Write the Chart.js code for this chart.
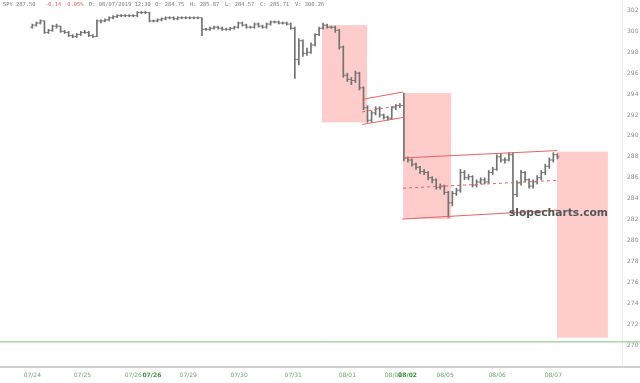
<!DOCTYPE html>
<html>
<head>
<meta charset="utf-8">
<script src="https://cdn.jsdelivr.net/npm/chart.js@4.4.0/dist/chart.umd.min.js"></script>
<style>
  html, body { margin: 0; padding: 0; background: #fff; }
  #wrap { width: 640px; height: 383px; position: relative; }
</style>
</head>
<body>
<div id="wrap"><canvas id="c"></canvas></div>
<script>
// SPY intraday bars, 07/24 - 08/07 2019
const opens = [300.4, 300.6, 300.8, 301.0, 299.9, 300.1, 300.5, 300.5, 300.0, 299.9,
  299.6, 299.5, 299.7, 299.9, 299.9, 299.6, 299.5, 301.0, 301.0, 301.1,
  301.3, 301.4, 301.5, 301.5, 301.5, 301.5, 301.5, 301.8, 301.8, 301.8,
  301.0, 301.0, 301.1, 301.2, 301.3, 301.3, 301.2, 301.3, 301.3, 301.3,
  301.3, 301.3, 301.3, 300.2, 300.2, 300.3, 300.4, 300.3, 300.2, 300.2,
  300.3, 300.4, 300.8, 300.6, 300.4, 300.4, 300.7, 300.5, 300.4, 300.7,
  300.9, 300.9, 300.8, 300.8, 300.7, 300.3, 297.3, 299.1, 297.9, 298.0,
  298.7, 299.7, 300.3, 300.6, 300.4, 300.4, 300.1, 298.5, 295.8, 295.4,
  295.3, 296.0, 294.6, 292.7, 291.5, 292.2, 292.6, 292.0, 291.8, 291.7,
  292.7, 292.9, 292.9, 287.9, 287.7, 287.3, 287.0, 286.6, 286.5, 286.0,
  285.8, 285.1, 285.2, 284.6, 283.6, 284.5, 284.8, 286.5, 286.0, 286.1,
  285.3, 285.6, 285.8, 285.6, 286.5, 286.8, 288.0, 287.7, 287.7, 288.2,
  284.4, 285.5, 286.5, 285.8, 285.2, 285.6, 286.0, 286.5, 287.1, 287.7,
  288.2];
const highs = [300.7, 300.9, 301.1, 301.0, 300.2, 300.6, 300.7, 300.5, 300.1, 300.0,
  299.7, 299.8, 300.0, 300.1, 300.0, 299.7, 301.1, 301.1, 301.2, 301.4,
  301.5, 301.6, 301.6, 301.6, 301.6, 301.6, 301.9, 301.9, 301.9, 301.8,
  301.1, 301.2, 301.3, 301.4, 301.4, 301.4, 301.4, 301.4, 301.4, 301.4,
  301.4, 301.4, 301.3, 300.3, 300.4, 300.5, 300.5, 300.4, 300.3, 300.4,
  300.5, 300.9, 300.9, 300.7, 300.5, 300.8, 300.8, 300.6, 300.8, 301.0,
  301.0, 301.0, 300.9, 300.9, 300.8, 300.4, 299.3, 299.2, 298.4, 298.9,
  299.8, 300.4, 300.8, 300.7, 300.5, 300.5, 300.2, 298.6, 296.0, 295.6,
  296.2, 296.1, 294.7, 292.9, 292.4, 292.8, 292.8, 292.1, 291.9, 292.8,
  293.0, 293.1, 294.1, 288.0, 287.8, 287.4, 287.1, 286.8, 286.6, 286.1,
  285.9, 285.4, 285.3, 284.7, 284.7, 285.0, 286.8, 286.7, 286.3, 286.2,
  285.8, 286.0, 286.0, 286.7, 287.0, 288.2, 288.3, 287.9, 288.4, 288.4,
  285.7, 286.7, 286.6, 285.9, 285.8, 286.2, 286.7, 287.3, 287.9, 288.4,
  288.3];
const lows = [300.3, 300.5, 300.7, 299.8, 299.8, 300.0, 300.3, 299.9, 299.8, 299.5,
  299.4, 299.4, 299.6, 299.8, 299.5, 299.4, 299.5, 300.8, 300.9, 301.0,
  301.2, 301.3, 301.4, 301.4, 301.4, 301.4, 301.4, 301.7, 301.7, 300.9,
  300.9, 300.9, 301.0, 301.1, 301.2, 301.1, 301.1, 301.2, 301.2, 301.2,
  301.2, 301.2, 299.6, 300.1, 300.1, 300.2, 300.2, 300.1, 300.1, 300.1,
  300.2, 300.3, 300.5, 300.3, 300.3, 300.3, 300.4, 300.3, 300.3, 300.6,
  300.8, 300.7, 300.7, 300.6, 300.2, 295.5, 296.8, 297.6, 297.7, 297.9,
  298.6, 299.6, 300.2, 300.3, 300.3, 299.9, 298.3, 295.6, 295.2, 294.9,
  295.1, 294.4, 292.5, 291.3, 291.3, 292.0, 291.8, 291.6, 291.5, 291.6,
  292.5, 292.7, 287.6, 287.5, 287.1, 286.8, 286.4, 286.3, 285.8, 285.5,
  284.9, 284.9, 284.4, 282.2, 283.3, 284.3, 284.6, 285.8, 285.8, 285.1,
  285.1, 285.4, 285.4, 285.5, 286.3, 286.7, 287.5, 287.4, 287.6, 282.6,
  284.2, 285.3, 285.6, 285.0, 285.0, 285.4, 285.8, 286.3, 286.9, 287.5,
  287.8];
const closes = [300.6, 300.8, 301.0, 299.9, 300.1, 300.5, 300.5, 300.0, 299.9, 299.6,
  299.5, 299.7, 299.9, 299.9, 299.6, 299.5, 301.0, 301.0, 301.1, 301.3,
  301.4, 301.5, 301.5, 301.5, 301.5, 301.5, 301.8, 301.8, 301.8, 301.0,
  301.0, 301.1, 301.2, 301.3, 301.3, 301.2, 301.3, 301.3, 301.3, 301.3,
  301.3, 301.3, 300.2, 300.2, 300.3, 300.4, 300.3, 300.2, 300.2, 300.3,
  300.4, 300.8, 300.6, 300.4, 300.4, 300.7, 300.5, 300.4, 300.7, 300.9,
  300.9, 300.8, 300.8, 300.7, 300.3, 297.3, 299.1, 297.9, 298.0, 298.7,
  299.7, 300.3, 300.6, 300.4, 300.4, 300.1, 298.5, 295.8, 295.4, 295.3,
  296.0, 294.6, 292.7, 291.5, 292.2, 292.6, 292.0, 291.8, 291.7, 292.7,
  292.9, 292.9, 287.9, 287.7, 287.3, 287.0, 286.6, 286.5, 286.0, 285.8,
  285.1, 285.2, 284.6, 283.6, 284.5, 284.8, 286.5, 286.0, 286.1, 285.3,
  285.6, 285.8, 285.6, 286.5, 286.8, 288.0, 287.7, 287.7, 288.2, 284.4,
  285.5, 286.5, 285.8, 285.2, 285.6, 286.0, 286.5, 287.1, 287.7, 288.2,
  288.0];

// day labels on the bar index axis
const dayLabels = ["07/24", "07/25", "07/26", "07/26", "07/29", "07/30", "07/31", "08/01", "08/02", "08/02", "08/05", "08/06", "08/07"];
const dayPos = [0, 12.4, 25, 29.6, 38.6, 51.2, 64.6, 78, 89.4, 92.9, 102.2, 115.1, 129];
const boldDays = [3, 9];
const priceTicks = [270, 272, 274, 276, 278, 280, 282, 284, 286, 288, 290, 292, 294, 296, 298, 300, 302];

// shaded boxes: [fromBar, toBar, lowPrice, highPrice]
const zones = [[71.7, 82.9, 291.3, 300.6], [91.8, 103.7, 282.05, 294.1], [129.9, 142.5, 270.7, 288.5]];
// channel lines: [[bar, price], [bar, price]]
const smallTop = [[81.7, 293.5], [91.8, 294.2]];
const smallBot = [[81.7, 291.1], [92.3, 291.8]];
const smallMid = [[81.7, 292.3], [92.0, 293.0]];
const bigTop = [[92.1, 287.9], [130, 288.6]];
const bigBot = [[91.6, 282.05], [130, 282.9]];
const bigMid = [[91.8, 285.0], [130, 285.75]];
const floorLevel = 270.3;

const header = [["SPY 287.50", 3, "#777"], ["-0.14", 45, "#e06060"], ["-0.05%", 64, "#e06060"],
  ["D: 08/07/2019 12:30", 89, "#777"], ["O: 284.75", 155, "#777"], ["H: 285.87", 190, "#777"],
  ["L: 284.57", 225, "#777"], ["C: 285.71", 260, "#777"], ["V: 300.26", 295, "#777"]];

const pts = arr => arr.map(p => ({x: p[0], y: p[1]}));
const redLine = (data, dash) => ({type: "line", data: pts(data), borderColor: "#e06666", borderWidth: 1,
  borderDash: dash ? [3, 3] : [], pointRadius: 0, fill: false, order: 0});

const zonePlugin = {
  id: "zones",
  beforeDatasetsDraw(chart){
    const {ctx, scales:{x, y}} = chart;
    ctx.save();
    ctx.fillStyle = "#ffcccc";
    zones.forEach(z => {
      const x0 = x.getPixelForValue(z[0]), x1 = x.getPixelForValue(z[1]);
      const y0 = y.getPixelForValue(z[3]), y1 = y.getPixelForValue(z[2]);
      ctx.fillRect(x0, y0, x1 - x0, y1 - y0);
    });
    ctx.restore();
  },
  afterDraw(chart){
    const {ctx, chartArea} = chart;
    ctx.save();
    // axis line runs under the price column too
    ctx.strokeStyle = "#cfcfcf";
    ctx.lineWidth = 2;
    ctx.beginPath();
    ctx.moveTo(chartArea.right, chartArea.bottom);
    ctx.lineTo(chart.width, chartArea.bottom);
    ctx.stroke();
    ctx.font = "5.4px 'DejaVu Sans Mono'";
    ctx.textBaseline = "middle";
    header.forEach(h => { ctx.fillStyle = h[2]; ctx.fillText(h[0], h[1], 5); });
    ctx.font = "bold 10.7px 'DejaVu Sans'";
    ctx.fillStyle = "#555";
    ctx.textAlign = "right";
    ctx.fillText("slopecharts.com", 608, 213);
    ctx.restore();
  }
};

new Chart(document.getElementById("c"), {
  type: "bar",
  data: {
    datasets: [
      {type: "bar", data: closes.map((_, i) => ({x: i, y: [lows[i], highs[i]]})),
        backgroundColor: "#727272", borderWidth: 0, barThickness: 1, order: 2},
      {type: "line", data: opens.map((v, i) => ({x: i - 0.25, y: v})), showLine: false,
        pointStyle: "line", pointRadius: 1, pointBorderWidth: 1, pointBorderColor: "#727272", order: 1},
      {type: "line", data: closes.map((v, i) => ({x: i + 0.25, y: v})), showLine: false,
        pointStyle: "line", pointRadius: 1, pointBorderWidth: 1, pointBorderColor: "#727272", order: 1},
      redLine(smallTop), redLine(smallBot), redLine(smallMid, true),
      redLine(bigTop), redLine(bigBot), redLine(bigMid, true),
      {type: "line", data: [{x: -8, y: floorLevel}, {x: 151, y: floorLevel}], borderColor: "#80c080",
        borderWidth: 1, pointRadius: 0, clip: false, order: 0}
    ]
  },
  options: {
    responsive: true, maintainAspectRatio: false, animation: false, events: [],
    layout: {padding: 0, autoPadding: false},
    plugins: {legend: {display: false}, tooltip: {enabled: false}},
    scales: {
      x: {
        type: "linear", min: -8, max: 146, offset: false,
        grid: {display: false, drawTicks: false},
        border: {display: true, color: "#cfcfcf", width: 2},
        afterBuildTicks: s => { s.ticks = dayPos.map(v => ({value: v})); },
        afterFit: s => { s.height = 16; s.paddingLeft = 0; s.paddingRight = 0; },
        ticks: {
          autoSkip: false, maxRotation: 0, padding: 5,
          color: c => boldDays.includes(c.index) ? "#3f8f3f" : "#6aaa6a",
          font: c => ({family: "DejaVu Sans", size: 6, weight: boldDays.includes(c.index) ? "bold" : "normal"}),
          callback: (v, i) => dayLabels[i]
        }
      },
      y: {
        position: "right", min: 267.9, max: 303.0,
        grid: {display: false, drawTicks: false},
        border: {display: true, color: "#eeeeee", width: 1},
        afterBuildTicks: s => { s.ticks = priceTicks.map(v => ({value: v})); },
        afterFit: s => { s.width = 18; s.paddingTop = 0; s.paddingBottom = 0; },
        ticks: {padding: 5, color: "#8a8a8a", font: {family: "DejaVu Sans", size: 6}, callback: v => String(v)}
      }
    }
  },
  plugins: [zonePlugin]
});
</script>
</body>
</html>
